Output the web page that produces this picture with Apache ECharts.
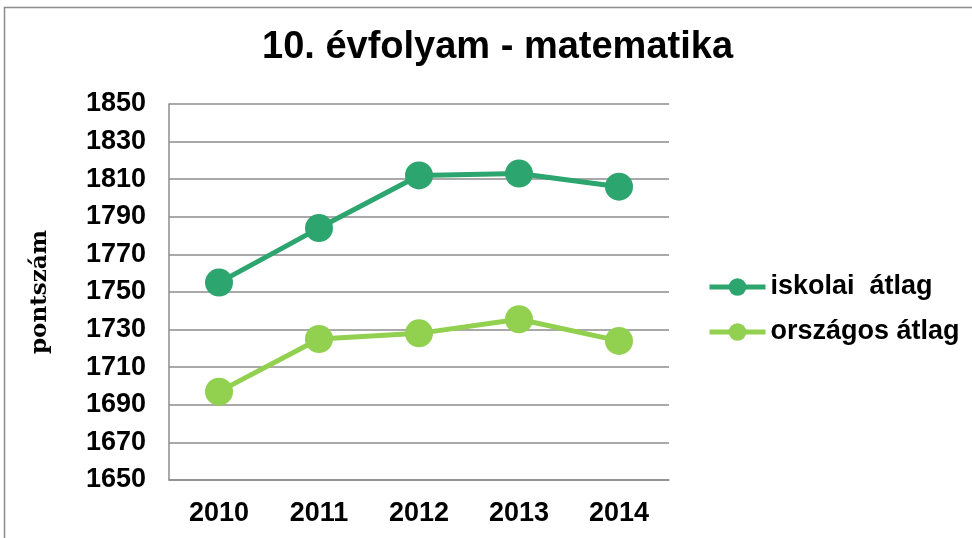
<!DOCTYPE html>
<html>
<head>
<meta charset="utf-8">
<script src="https://cdn.jsdelivr.net/npm/echarts@6/dist/echarts.min.js"></script>
<style>html,body{margin:0;padding:0;background:#fff}#c{width:972px;height:538px}</style>
</head>
<body>
<div id="c"></div>
<script>
const titleText = '10. évfolyam - matematika';
const yAxisName = 'pontszám';
const categories = ['2010', '2011', '2012', '2013', '2014'];
const seriesNames = ['iskolai  átlag', 'országos átlag'];
const iskolai = [1755, 1784, 1812, 1813, 1806];
const orszagos = [1697, 1725, 1728, 1735.5, 1724];
const yMin = 1650, yMax = 1850, yStep = 20;
const colors = ['#2ca56e', '#92d050'];

const chart = echarts.init(document.getElementById('c'));
const font = '"Liberation Sans", Arial, sans-serif';
chart.setOption({
  animation: false,
  backgroundColor: '#fff',
  title: {
    text: titleText,
    left: 262,
    top: 29,
    padding: 0,
    textStyle: { fontFamily: font, fontWeight: 'bold', fontSize: 38, color: '#000' }
  },
  graphic: [{
    type: 'rect',
    shape: { x: 4.5, y: 7.5, width: 1000, height: 600 },
    style: { fill: 'none', stroke: '#8c8c8c', lineWidth: 1.5 },
    silent: true
  }],
  legend: {
    orient: 'vertical',
    left: 707,
    top: 273,
    itemWidth: 56,
    itemHeight: 22,
    itemGap: 17,
    padding: 0,
    lineStyle: { width: 5 },
    textStyle: { fontFamily: font, fontWeight: 'bold', fontSize: 27, color: '#000', lineHeight: 28 },
    data: seriesNames
  },
  grid: { left: 169, right: 303, top: 104, bottom: 58, containLabel: false },
  xAxis: {
    type: 'category',
    data: categories,
    boundaryGap: true,
    axisLine: { show: true, lineStyle: { color: '#8c8c8c', width: 1.5 } },
    axisTick: { show: false },
    axisLabel: { margin: 20, fontFamily: font, fontWeight: 'bold', fontSize: 27, color: '#000' }
  },
  yAxis: {
    type: 'value',
    min: yMin, max: yMax, interval: yStep,
    name: yAxisName,
    nameLocation: 'middle',
    nameGap: 117,
    nameRotate: 90,
    nameTextStyle: { fontFamily: '"DejaVu Serif", serif', fontWeight: 'bold', fontSize: 23, color: '#000' },
    axisLine: { show: true, lineStyle: { color: '#8c8c8c', width: 1.5 } },
    axisTick: { show: false },
    splitLine: { show: true, lineStyle: { color: '#8c8c8c', width: 1.5 } },
    axisLabel: {
      margin: 23, fontFamily: font, fontWeight: 'bold', fontSize: 27, color: '#000',
      formatter: function (v) { return String(v); }
    }
  },
  series: [
    {
      name: seriesNames[0], type: 'line', data: iskolai,
      symbol: 'circle', symbolSize: 28,
      lineStyle: { color: colors[0], width: 5 },
      itemStyle: { color: colors[0] }
    },
    {
      name: seriesNames[1], type: 'line', data: orszagos,
      symbol: 'circle', symbolSize: 28,
      lineStyle: { color: colors[1], width: 5 },
      itemStyle: { color: colors[1] }
    }
  ]
});
</script>
</body>
</html>
